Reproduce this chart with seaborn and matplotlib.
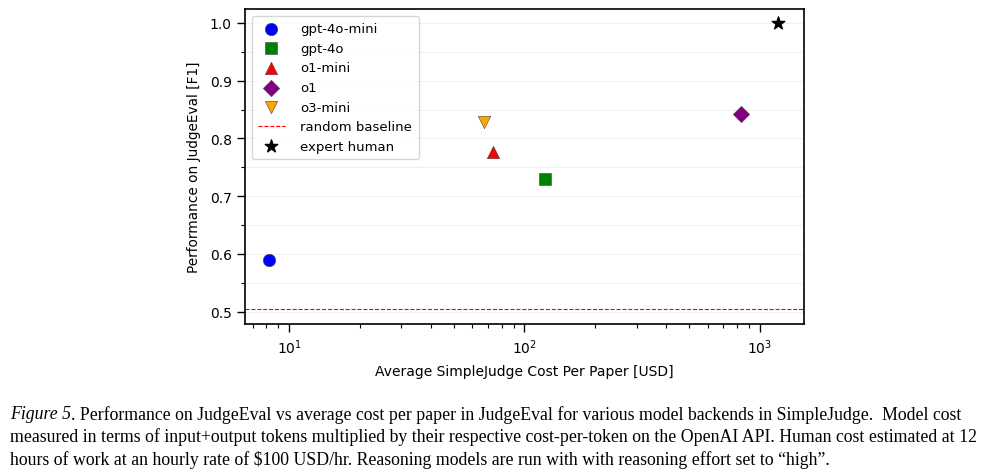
import numpy as np
import pandas as pd
import matplotlib
matplotlib.use("Agg")
import matplotlib.pyplot as plt
import seaborn as sns
from matplotlib.ticker import MultipleLocator

# data
models = ["gpt-4o-mini", "gpt-4o", "o1-mini", "o1", "o3-mini"]
cost = [8.2, 122.0, 73.5, 830.0, 67.5]
f1 = [0.590, 0.729, 0.776, 0.842, 0.828]
markers = ["o", "s", "^", "D", "v"]
colors = ["blue", "green", "red", "purple", "orange"]
random_baseline = 0.505
human_cost = 1200.0
human_f1 = 1.0

caption = [
    ". Performance on JudgeEval vs average cost per paper in JudgeEval for various model backends in SimpleJudge.  Model cost",
    "measured in terms of input+output tokens multiplied by their respective cost-per-token on the OpenAI API. Human cost estimated at 12",
    "hours of work at an hourly rate of \\$100 USD/hr. Reasoning models are run with with reasoning effort set to \u201chigh\u201d.",
]

sns.set_style("ticks")
plt.rcParams["font.family"] = ["DejaVu Sans"]
plt.rcParams["font.size"] = 9
plt.rcParams["text.color"] = "black"
plt.rcParams["axes.labelcolor"] = "black"
plt.rcParams["xtick.color"] = "black"
plt.rcParams["ytick.color"] = "black"
plt.rcParams["axes.edgecolor"] = "black"

df = pd.DataFrame({"model": models, "cost": cost, "f1": f1})

fig = plt.figure(figsize=(9.9, 4.77), dpi=100)
ax = fig.add_axes([0.2475, 0.319, 0.5645, 0.66])

for m, mk, c in zip(models, markers, colors):
    sns.scatterplot(data=df[df.model == m], x="cost", y="f1", marker=mk, color=c,
                    s=80 if mk != "D" else 70, edgecolor="#444444", linewidth=0.4,
                    label=m, ax=ax, zorder=3)

ax.axhline(random_baseline, color="red", linestyle="--", linewidth=0.8, label="random baseline")
ax.scatter([human_cost], [human_f1], marker="*", color="black", s=90, label="expert human", zorder=3)

ax.set_xscale("log")
ax.set_xlim(6.5, 1540)
ax.set_ylim(0.479, 1.024)
ax.yaxis.set_major_locator(MultipleLocator(0.1))
ax.yaxis.set_minor_locator(MultipleLocator(0.05))
ax.grid(True, which="both", axis="y", color="#eeeeee", linewidth=0.6)
ax.set_axisbelow(True)
for sp in ax.spines.values():
    sp.set_linewidth(1.2)
    sp.set_visible(True)
ax.tick_params(which="major", length=6, width=1, labelsize=10)
ax.tick_params(which="minor", length=3, width=0.8)

ax.set_xlabel("Average SimpleJudge Cost Per Paper [USD]", fontsize=10, labelpad=6)
ax.set_ylabel("Performance on JudgeEval [F1]", fontsize=9.8, labelpad=6)
ax.legend(loc="upper left", fontsize=9.5, frameon=True, borderpad=0.5,
          handletextpad=1.2, edgecolor="#cccccc")

fs = 12.75
fig.canvas.draw()
renderer = fig.canvas.get_renderer()
for i, line in enumerate(caption):
    y = 1 - (415 + i * 22.5) / 477
    if i == 0:
        t = fig.text(10 / 990, y, "Figure 5", fontsize=fs, style="italic",
                     family="Liberation Serif", va="center")
        bb = t.get_window_extent(renderer)
        fig.text(bb.x1 / 990, y, line, fontsize=fs, family="Liberation Serif", va="center")
    else:
        fig.text(10 / 990, y, line, fontsize=fs, family="Liberation Serif", va="center")

fig.savefig("out.png", dpi=100)
